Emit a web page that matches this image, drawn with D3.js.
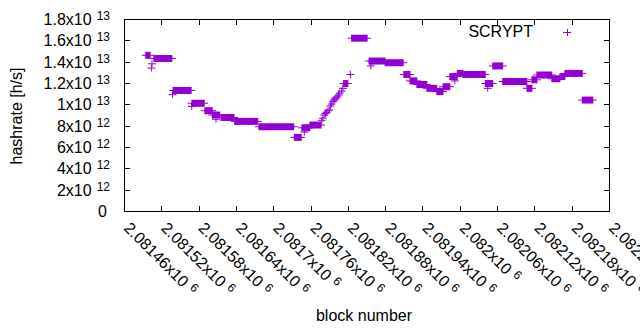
<!DOCTYPE html>
<html>
<head>
<meta charset="utf-8" />
<title>SCRYPT hashrate</title>
<script src="https://d3js.org/d3.v7.min.js"></script>
<style>
  body { margin: 0px; background-color: white; }
  text { font-family: "Liberation Sans", Arial, sans-serif; fill: #000; }
</style>
</head>
<body>
<svg id="chart"></svg>
<script>
// hashrate held over a span of blocks: first block, last block, value (x10^12 h/s)
var runStart = [2081495, 2081508, 2081539, 2081569, 2081590, 2081602, 2081616, 2081638, 2081677, 2081734,
                2081746, 2081759, 2081813, 2081826, 2081854, 2081880, 2081910, 2081920, 2081931, 2081947,
                2081963, 2081973, 2081984, 2081996, 2082005, 2082041, 2082053, 2082069, 2082108, 2082116,
                2082124, 2082148, 2082161, 2082169, 2082197];
var runEnd   = [2081502, 2081537, 2081568, 2081589, 2081602, 2081614, 2081637, 2081675, 2081733, 2081745,
                2081759, 2081777, 2081820, 2081851, 2081880, 2081909, 2081920, 2081931, 2081947, 2081963,
                2081973, 2081984, 2081996, 2082005, 2082041, 2082053, 2082069, 2082108, 2082116, 2082124,
                2082148, 2082161, 2082169, 2082197, 2082214];
var runValue = [14.6, 14.3, 11.3, 10.1, 9.4, 9.0, 8.77, 8.4, 7.9, 6.9,
                7.8, 8.06, 11.95, 16.2, 14.06, 13.9, 12.8, 12.2, 11.86, 11.5,
                11.2, 11.65, 12.6, 12.9, 12.8, 11.95, 13.6, 12.14, 11.5, 12.3,
                12.75, 12.4, 12.6, 12.9, 10.4];

// single blocks off the runs
var pointBlock = [2081505, 2081504, 2081538, 2081569, 2081608, 2081750,
                  2081778, 2081780, 2081782, 2081784, 2081786, 2081788, 2081790, 2081792, 2081794,
                  2081796, 2081798, 2081799, 2081801, 2081803, 2081805, 2081807, 2081810, 2081812,
                  2081824, 2081857, 2081859, 2081992, 2082045];
var pointValue = [13.8, 13.4, 10.9, 9.8, 8.6, 7.4,
                  8.5, 8.7, 9.0, 9.15, 9.25, 9.4, 9.47, 9.85, 10.03,
                  10.25, 10.4, 10.5, 10.6, 10.7, 10.87, 11.06, 11.25, 11.5,
                  12.8, 13.6, 14.0, 12.2, 11.5];

var xTicks = [2081460, 2081520, 2081580, 2081640, 2081700, 2081760, 2081820, 2081880,
              2081940, 2082000, 2082060, 2082120, 2082180, 2082240];
var yTicks = [0, 2, 4, 6, 8, 10, 12, 14, 16, 18];   // x10^12

var width = 640, height = 330;
var margin = {top: 19, right: 31, bottom: 119, left: 124};
var color = "#9400d3";
var arm = 4;
var fs = 16;

var svg = d3.select("#chart").attr("width", width).attr("height", height);

var x = d3.scaleLinear()
  .domain([2081460, 2082240])
  .range([margin.left, width - margin.right]);
var y = d3.scaleLinear()
  .domain([0, 18])
  .range([height - margin.bottom, margin.top]);

// mantissa + "x10" + raised exponent, gnuplot style
function sci(v, unitExp) {
  if (v === 0) return {m: "0", e: null};
  var val = v * Math.pow(10, unitExp);
  var e = Math.floor(Math.log10(val) + 1e-9);
  var m = +(val / Math.pow(10, e)).toFixed(6);
  return {m: m + "x10", e: e};
}
function writeLabel(sel, lab) {
  sel.append("tspan").text(lab.m);
  if (lab.e !== null) {
    sel.append("tspan").attr("font-size", 12).attr("dx", 5).attr("dy", -5).text(lab.e);
  }
}

// frame
svg.append("rect")
  .attr("x", margin.left + 0.5).attr("y", margin.top + 0.5)
  .attr("width", width - margin.left - margin.right)
  .attr("height", height - margin.top - margin.bottom)
  .attr("fill", "none").attr("stroke", "#000");

var ticks = svg.append("g").attr("stroke", "#000").attr("stroke-width", 1);
xTicks.forEach(function(t) {
  var px = Math.round(x(t)) + 0.5;
  ticks.append("line").attr("x1", px).attr("x2", px)
    .attr("y1", y(0)).attr("y2", y(0) - 5);
  ticks.append("line").attr("x1", px).attr("x2", px)
    .attr("y1", y(18) + 1).attr("y2", y(18) + 6);
});
yTicks.forEach(function(t) {
  var py = Math.round(y(t)) + 0.5;
  ticks.append("line").attr("x1", x.range()[0]).attr("x2", x.range()[0] + 6)
    .attr("y1", py).attr("y2", py);
  ticks.append("line").attr("x1", x.range()[1]).attr("x2", x.range()[1] - 5)
    .attr("y1", py).attr("y2", py);
});

// y tick labels
yTicks.forEach(function(t) {
  var lab = sci(t, 12);
  var txt = svg.append("text")
    .attr("x", lab.e === null ? 107 : 110)
    .attr("y", y(t) + 6)
    .attr("text-anchor", "end")
    .attr("font-size", fs);
  writeLabel(txt, lab);
});

// x tick labels, rotated
xTicks.forEach(function(t) {
  var lab = sci(t, 0);
  var txt = svg.append("text")
    .attr("transform", "translate(" + (x(t) - 1) + "," + (y(0) + 18) + ") rotate(45)")
    .attr("font-size", fs);
  writeLabel(txt, lab);
});

// axis titles
svg.append("text")
  .attr("transform", "translate(22,116) rotate(-90)")
  .attr("text-anchor", "middle").attr("font-size", fs)
  .text("hashrate [h/s]");
svg.append("text")
  .attr("x", 364).attr("y", 321)
  .attr("text-anchor", "middle").attr("font-size", fs)
  .text("block number");

// data: runs of overlapping + marks
var runs = runStart.map(function(s, i) { return {s: s, e: runEnd[i], v: runValue[i]}; });
var plot = svg.append("g");
plot.selectAll(".run").data(runs).enter().append("rect")
  .attr("class", "run")
  .attr("x", function(d) { return x(d.s) - 0.5; })
  .attr("width", function(d) { return x(d.e) - x(d.s) + 1; })
  .attr("y", function(d) { return y(d.v) - 3.5; })
  .attr("height", 7)
  .attr("fill", color);
plot.selectAll(".runline").data(runs).enter().append("line")
  .attr("class", "runline")
  .attr("x1", function(d) { return x(d.s) - arm; })
  .attr("x2", function(d) { return x(d.e) + arm; })
  .attr("y1", function(d) { return y(d.v); })
  .attr("y2", function(d) { return y(d.v); })
  .attr("stroke", color);

var pts = pointBlock.map(function(b, i) { return {b: b, v: pointValue[i]}; });
plot.selectAll(".pt").data(pts).enter().append("path")
  .attr("class", "pt")
  .attr("d", function(d) {
    var px = x(d.b), py = y(d.v);
    return "M" + (px - arm) + "," + py + "H" + (px + arm) + "M" + px + "," + (py - 3.5) + "V" + (py + 3.5);
  })
  .attr("stroke", color).attr("fill", "none");

// legend
svg.append("text").attr("x", 533).attr("y", 37)
  .attr("text-anchor", "end").attr("font-size", fs).text("SCRYPT");
svg.append("path")
  .attr("d", "M" + (567 - arm) + ",32.5H" + (567 + arm) + "M567.5,29V36")
  .attr("stroke", color).attr("fill", "none");
</script>
</body>
</html>
